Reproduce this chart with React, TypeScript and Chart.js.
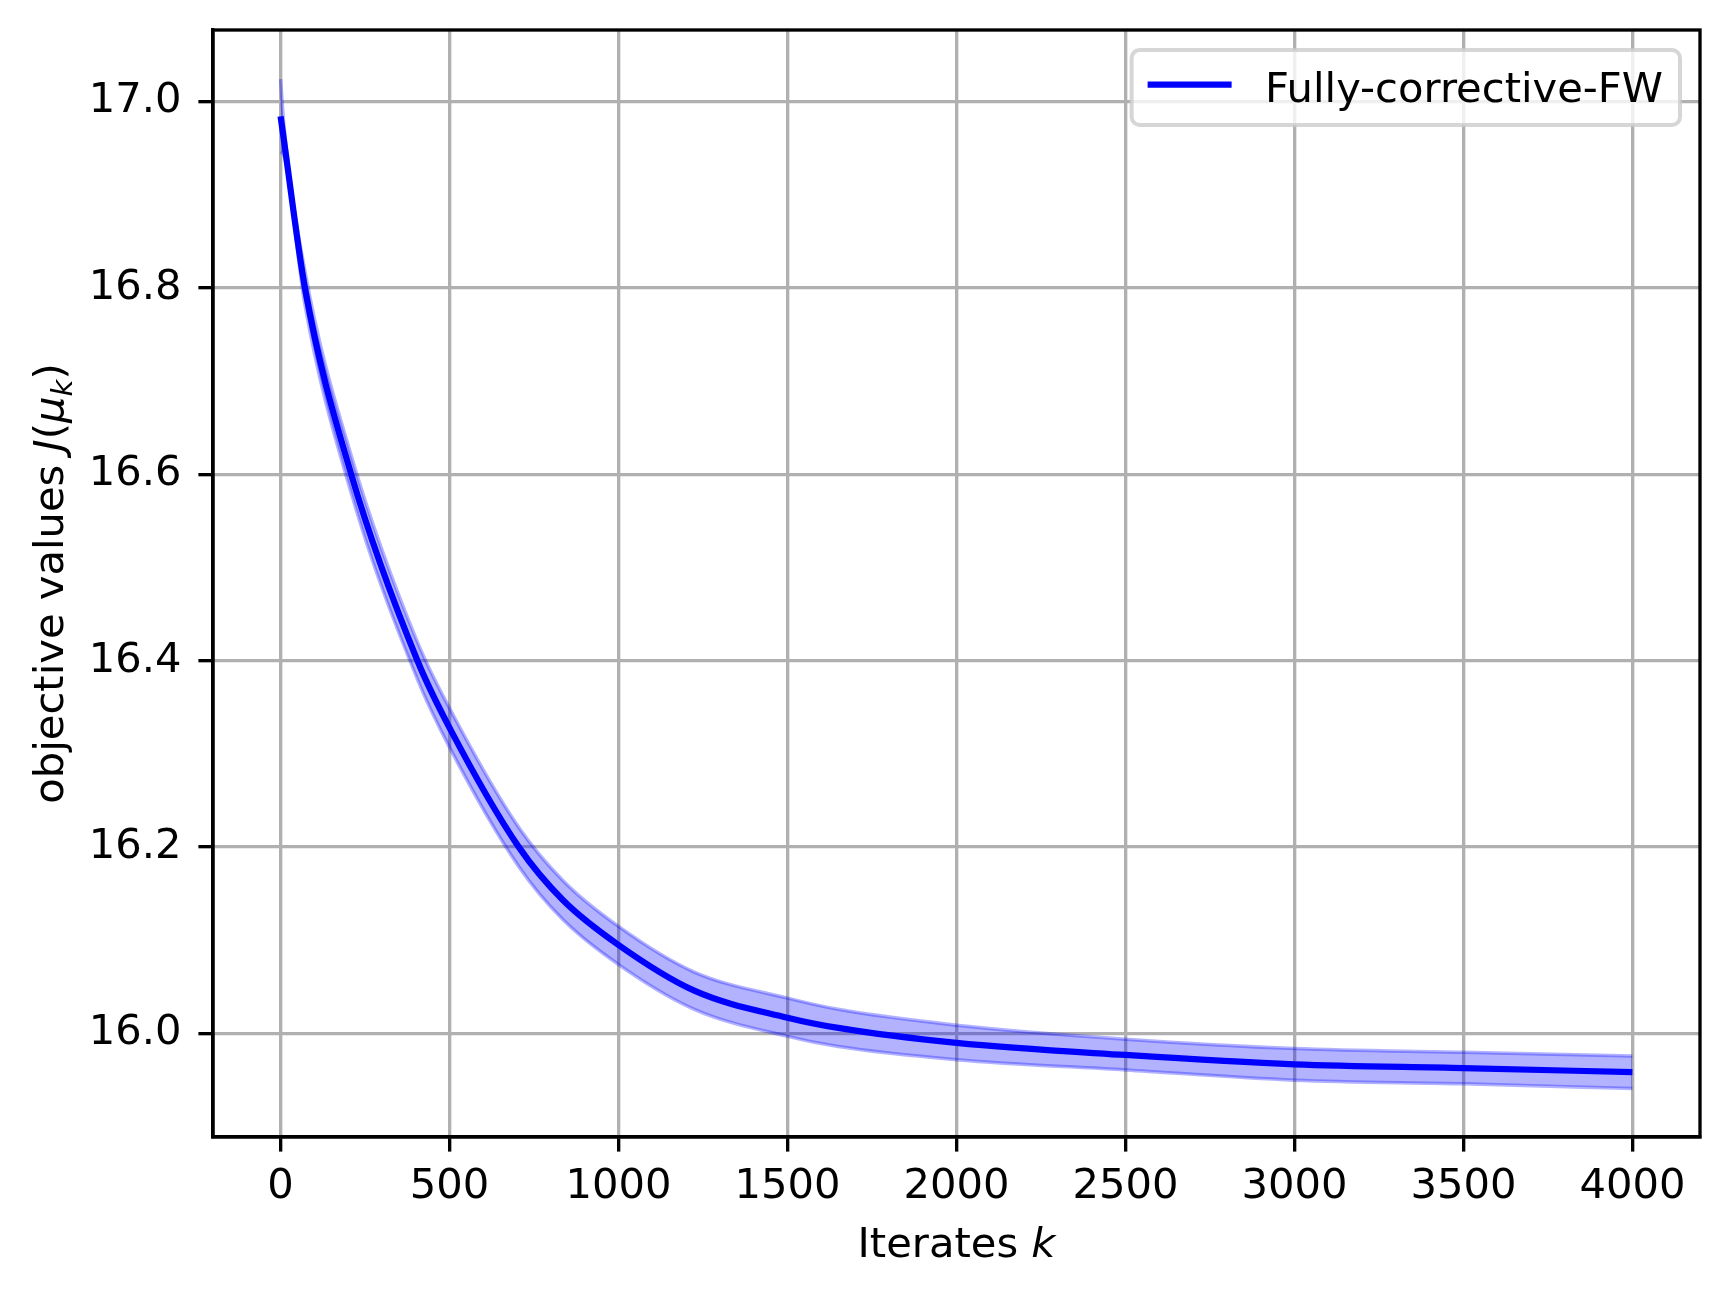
import React, { useEffect, useRef } from "react";
import { Chart, registerables } from "chart.js";

Chart.register(...registerables);

// ---- data ----
const ITERATES = [0, 10, 72, 209, 405, 500, 705, 836, 1000, 1224, 1500, 1650, 2000, 2500, 3000, 3500, 4000];
const MEAN_VALUES = [16.984, 16.958, 16.8, 16.6, 16.4, 16.328, 16.2, 16.143, 16.095, 16.046, 16.017, 16.006, 15.99, 15.977, 15.967, 15.963, 15.9585];
const UPPER_VALUES = [17.024, 16.974, 16.818, 16.62, 16.42, 16.349, 16.221, 16.164, 16.115, 16.066, 16.038, 16.026, 16.009, 15.994, 15.984, 15.98, 15.976];
const LOWER_VALUES = [16.946, 16.942, 16.782, 16.58, 16.38, 16.307, 16.179, 16.122, 16.074, 16.026, 15.997, 15.986, 15.972, 15.961, 15.95, 15.946, 15.941];
const X_TICKS = [0, 500, 1000, 1500, 2000, 2500, 3000, 3500, 4000];
const Y_TICKS = [16.0, 16.2, 16.4, 16.6, 16.8, 17.0];
const X_RANGE = [-200, 4200];
const Y_RANGE = [15.889, 17.0767];
const SERIES_LABEL = "Fully-corrective-FW";
const X_TITLE_TEXT = "Iterates ";
const X_TITLE_VAR = "k";
const Y_TITLE_TEXT = "objective values ";

const FONT = "'DejaVu Sans'";
const FS = 41.67;

const decorPlugin = {
  id: "decor",
  afterDraw(chart: any) {
    const { ctx, chartArea: a } = chart;
    ctx.save();
    // full box spines
    ctx.strokeStyle = "#000";
    ctx.lineWidth = 3.33;
    ctx.strokeRect(a.left, a.top, a.right - a.left, a.bottom - a.top);

    // legend
    ctx.font = `${FS}px ${FONT}`;
    const tw = ctx.measureText(SERIES_LABEL).width;
    const boxW = 133.3 + tw + 17;
    const boxH = 75;
    const right = a.right - 20;
    const left = right - boxW;
    const top = a.top + 20;
    const r = 8;
    ctx.beginPath();
    ctx.moveTo(left + r, top);
    ctx.lineTo(left + boxW - r, top);
    ctx.arcTo(left + boxW, top, left + boxW, top + r, r);
    ctx.lineTo(left + boxW, top + boxH - r);
    ctx.arcTo(left + boxW, top + boxH, left + boxW - r, top + boxH, r);
    ctx.lineTo(left + r, top + boxH);
    ctx.arcTo(left, top + boxH, left, top + boxH - r, r);
    ctx.lineTo(left, top + r);
    ctx.arcTo(left, top, left + r, top, r);
    ctx.closePath();
    ctx.fillStyle = "rgba(255,255,255,0.8)";
    ctx.fill();
    ctx.strokeStyle = "rgba(204,204,204,0.8)";
    ctx.lineWidth = 4;
    ctx.stroke();
    // handle
    ctx.strokeStyle = "#0000ff";
    ctx.lineWidth = 6.25;
    ctx.lineCap = "butt";
    ctx.beginPath();
    ctx.moveTo(left + 16, top + boxH / 2 - 3);
    ctx.lineTo(left + 100, top + boxH / 2 - 3);
    ctx.stroke();
    ctx.fillStyle = "#000";
    ctx.textBaseline = "alphabetic";
    ctx.textAlign = "left";
    ctx.fillText(SERIES_LABEL, left + 133.3, top + 52);

    // x title
    const normal = `${FS}px ${FONT}`;
    const italic = `italic ${FS}px ${FONT}`;
    ctx.font = normal;
    const w1 = ctx.measureText(X_TITLE_TEXT).width;
    ctx.font = italic;
    const w2 = ctx.measureText(X_TITLE_VAR).width;
    const cx = (a.left + a.right) / 2;
    const xStart = cx - (w1 + w2) / 2;
    const xBase = a.bottom + 120;
    ctx.font = normal;
    ctx.fillText(X_TITLE_TEXT, xStart, xBase);
    ctx.font = italic;
    ctx.fillText(X_TITLE_VAR, xStart + w1, xBase);

    // y title (rotated)
    const sub = `italic ${FS * 0.7}px ${FONT}`;
    const pieces: [string, string, number][] = [
      [Y_TITLE_TEXT, normal, 0],
      ["J", italic, 0],
      ["(", normal, 0],
      ["\u03bc", italic, 0],
      ["k", sub, 9],
      [")", normal, 0],
    ];
    let total = 0;
    const widths = pieces.map(([t, f]) => {
      ctx.font = f;
      const w = ctx.measureText(t).width;
      total += w;
      return w;
    });
    ctx.translate(63, (a.top + a.bottom) / 2);
    ctx.rotate(-Math.PI / 2);
    let px = -total / 2;
    pieces.forEach(([t, f, dy], i) => {
      ctx.font = f;
      ctx.fillText(t, px, dy);
      px += widths[i];
    });
    ctx.restore();
  },
};

export default function App() {
  const ref = useRef<HTMLCanvasElement | null>(null);
  useEffect(() => {
    document.body.style.margin = "0";
    const canvas = ref.current;
    if (!canvas) return;
    const mk = (arr: number[]) => ITERATES.map((x, i) => ({ x, y: arr[i] }));
    const tickFont = { family: FONT, size: FS };
    const bandColor = "rgba(0,0,255,0.3)";
    const chart = new Chart(canvas, {
      type: "line",
      data: {
        datasets: [
          {
            label: "upper",
            data: mk(UPPER_VALUES),
            borderColor: bandColor,
            backgroundColor: bandColor,
            borderWidth: 3.5,
            fill: "+1",
            pointRadius: 0,
            cubicInterpolationMode: "monotone",
            order: 2,
          },
          {
            label: "lower",
            data: mk(LOWER_VALUES),
            borderColor: bandColor,
            backgroundColor: bandColor,
            borderWidth: 3.5,
            fill: false,
            pointRadius: 0,
            cubicInterpolationMode: "monotone",
            order: 2,
          },
          {
            label: SERIES_LABEL,
            data: mk(MEAN_VALUES),
            borderColor: "#0000ff",
            borderWidth: 6.25,
            fill: false,
            pointRadius: 0,
            cubicInterpolationMode: "monotone",
            order: 1,
          },
        ],
      },
      options: {
        animation: false,
        responsive: false,
        devicePixelRatio: 1,
        layout: { padding: { top: 30, right: 30, left: 0, bottom: 0 } },
        plugins: { legend: { display: false }, tooltip: { enabled: false } },
        scales: {
          x: {
            type: "linear",
            min: X_RANGE[0],
            max: X_RANGE[1],
            afterBuildTicks: (s: any) => {
              s.ticks = X_TICKS.map((v) => ({ value: v }));
            },
            afterFit: (s: any) => {
              s.height = 157;
              s.paddingLeft = 0;
              s.paddingRight = 0;
              s.paddingTop = 0;
              s.paddingBottom = 0;
            },
            ticks: {
              font: tickFont,
              color: "#000",
              padding: 11,
              maxRotation: 0,
              autoSkip: false,
              callback: (v: any) => String(v),
            },
            grid: { color: "#b0b0b0", lineWidth: 3.33, tickColor: "#000", tickLength: 14.6, tickWidth: 3.33 },
            border: { display: true, color: "#000", width: 3.33 },
          },
          y: {
            type: "linear",
            min: Y_RANGE[0],
            max: Y_RANGE[1],
            afterBuildTicks: (s: any) => {
              s.ticks = Y_TICKS.map((v) => ({ value: v }));
            },
            afterFit: (s: any) => {
              s.width = 213;
              s.paddingLeft = 0;
              s.paddingRight = 0;
              s.paddingTop = 0;
              s.paddingBottom = 0;
            },
            ticks: {
              font: tickFont,
              color: "#000",
              padding: 17,
              autoSkip: false,
              callback: (v: any) => Number(v).toFixed(1),
            },
            grid: { color: "#b0b0b0", lineWidth: 3.33, tickColor: "#000", tickLength: 14.6, tickWidth: 3.33 },
            border: { display: true, color: "#000", width: 3.33 },
          },
        },
      },
      plugins: [decorPlugin],
    } as any);
    return () => chart.destroy();
  }, []);
  return (
    <canvas
      ref={ref}
      width={1730}
      height={1294}
      style={{ display: "block", position: "absolute", left: 0, top: 0, width: 1730, height: 1294 }}
    />
  );
}
